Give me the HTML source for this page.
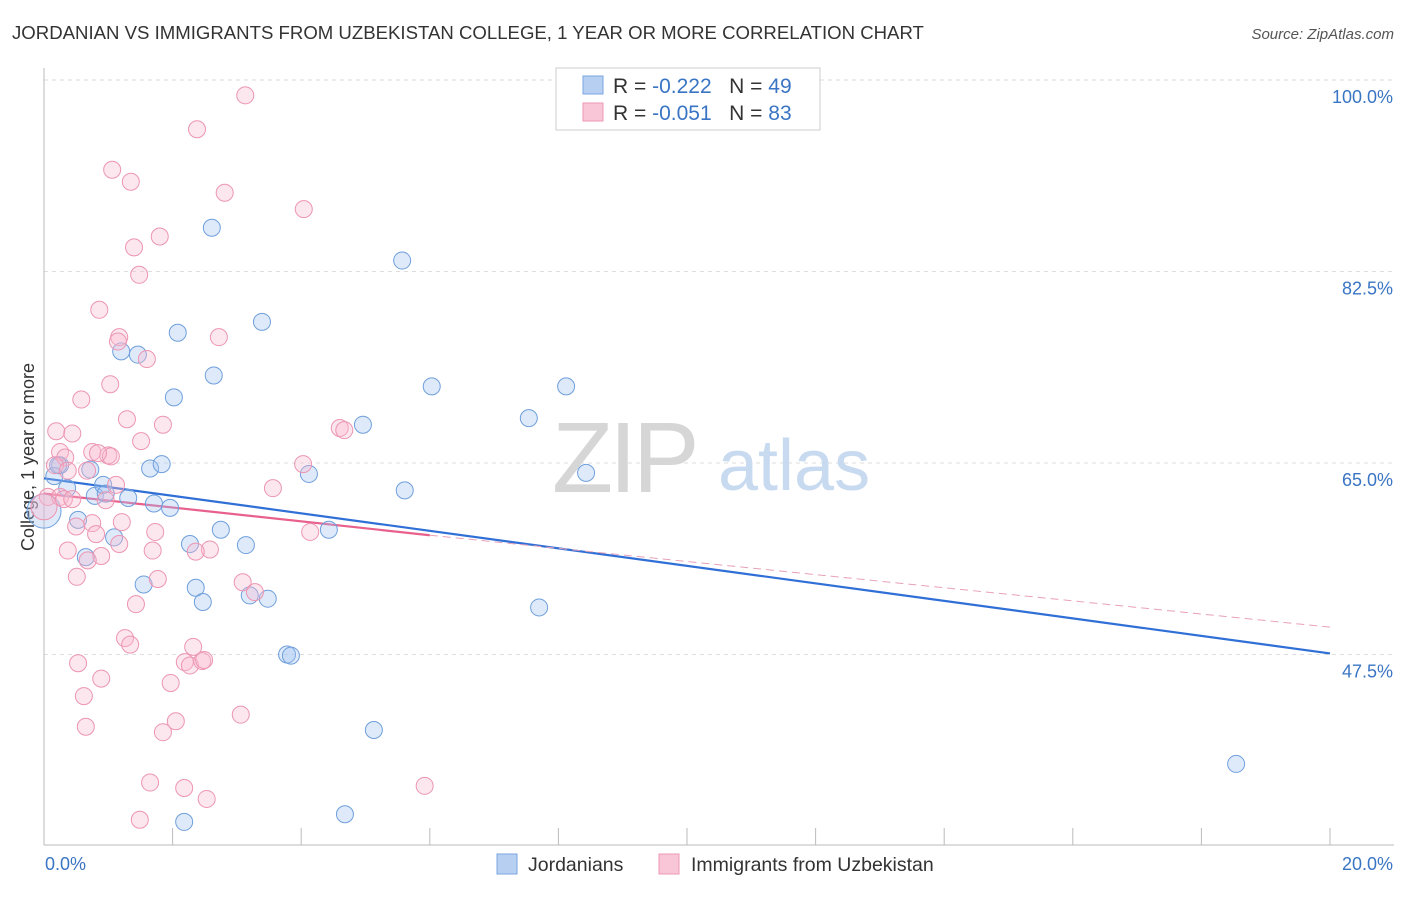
<!DOCTYPE html>
<html><head><meta charset="utf-8"><style>
body{margin:0;background:#fff;font-family:"Liberation Sans",sans-serif;}
svg text{font-family:"Liberation Sans",sans-serif;}
</style></head><body>
<svg id="chart" width="1406" height="892" viewBox="0 0 1406 892" xmlns="http://www.w3.org/2000/svg">
<text x="12" y="39" font-size="18.6" fill="#333">JORDANIAN VS IMMIGRANTS FROM UZBEKISTAN COLLEGE, 1 YEAR OR MORE CORRELATION CHART</text>
<text x="1394" y="39" font-size="15" fill="#555" text-anchor="end" font-style="italic">Source: ZipAtlas.com</text>
<g id="grid"></g>
<g>
<text x="552" y="492" font-size="100" fill="#d6d6d6" font-family="Liberation Serif" letter-spacing="-4">ZIP</text>
<text x="718" y="490" font-size="72" fill="#c8daf0">atlas</text>
</g>
<text transform="translate(34,457) rotate(-90)" font-size="18" fill="#333" text-anchor="middle">College, 1 year or more</text>
<g id="trends"></g>
<g id="points"></g>
<g>
<rect x="556" y="68" width="264" height="62" fill="#fff" stroke="#ccc"/>
<rect x="583" y="76" width="20" height="18" fill="#b7d0f2" stroke="#7aa6e0"/>
<rect x="583" y="103" width="20" height="18" fill="#f8c6d6" stroke="#ee98b6"/>
<text x="613" y="93" font-size="21" fill="#333">R = <tspan fill="#3a75c4">-0.222</tspan>&#160;&#160;&#160;N = <tspan fill="#3a75c4">49</tspan></text>
<text x="613" y="120" font-size="21" fill="#333">R = <tspan fill="#3a75c4">-0.051</tspan>&#160;&#160;&#160;N = <tspan fill="#3a75c4">83</tspan></text>
</g>
<g>
<rect x="497" y="854" width="20" height="20" fill="#b7d0f2" stroke="#7aa6e0"/>
<text x="528" y="871" font-size="19.5" fill="#333">Jordanians</text>
<rect x="659" y="854" width="20" height="20" fill="#f8c6d6" stroke="#ee98b6"/>
<text x="691" y="871" font-size="19.5" fill="#333">Immigrants from Uzbekistan</text>
</g>
</svg>
<script>
const yTicks=[100,82.5,65,47.5];
const yTickLabels=["100.0%","82.5%","65.0%","47.5%"];
const xEndLabels=["0.0%","20.0%"];
const blueX=[2.61,5.57,3.39,2.08,1.20,1.46,2.64,2.02,6.03,8.12,7.54,4.96,0.25,0.72,1.65,1.83,4.12,8.43,0.36,0.79,0.92,1.31,1.71,1.96,5.61,0.53,2.75,1.09,2.27,3.14,4.43,0.65,1.55,2.36,2.47,3.20,3.48,7.70,3.78,3.84,5.13,18.54,4.68,2.18,0.16,0.0,0.22,0.96];
const blueY=[86.5,83.5,77.9,76.9,75.2,74.9,73.0,71.0,72.0,72.0,69.1,68.5,64.8,64.4,64.5,64.9,64.0,64.1,62.7,62.0,63.0,61.8,61.3,60.9,62.5,59.8,58.9,58.2,57.6,57.5,58.9,56.4,53.9,53.6,52.3,52.9,52.6,51.8,47.5,47.4,40.6,37.5,32.9,32.2,63.8,60.6,64.8,62.2];
const pinkX=[3.13,2.38,1.06,1.35,2.81,4.04,1.80,1.40,1.48,0.86,1.17,1.15,1.60,2.72,1.03,0.58,1.29,1.85,0.19,0.44,1.51,4.60,4.67,0.25,0.33,0.75,1.00,1.04,0.84,4.03,0.17,0.37,0.67,1.12,3.56,0.06,0.25,0.31,0.44,0.96,1.21,0.75,0.50,1.73,4.14,0.81,1.17,0.37,1.69,2.58,2.36,0.89,0.68,0.51,1.77,3.09,3.28,1.43,1.26,1.34,2.32,0.53,2.19,2.27,2.46,2.49,0.89,1.97,0.62,2.05,3.06,0.65,1.85,1.65,2.18,2.53,5.92,1.49,0.0];
const pinkY=[98.6,95.5,91.8,90.7,89.7,88.2,85.7,84.7,82.2,79.0,76.5,76.1,74.5,76.5,72.2,70.8,69.0,68.5,67.9,67.7,67.0,68.2,68.0,66.0,65.5,66.0,65.7,65.6,65.9,64.9,64.8,64.3,64.3,63.0,62.7,61.9,61.9,61.7,61.7,61.6,59.6,59.5,59.2,58.7,58.7,58.5,57.6,57.0,57.0,57.1,56.9,56.5,56.1,54.6,54.4,54.1,53.2,52.1,49.0,48.4,48.2,46.7,46.8,46.5,46.9,47.0,45.3,44.9,43.7,41.4,42.0,40.9,40.4,35.8,35.3,34.3,35.5,32.4,61.0];
const blueTrend=[[0,63.6],[20,47.6]];
const pinkSolid=[[0,62.2],[6.0,58.4]];
const pinkDash=[[6.0,58.4],[20,50.0]];
const X0=44,X1=1330,YTOP=80,PXPER=191.5/17.5;
const xs=v=>X0+v/20*(X1-X0);
const ys=v=>YTOP+(100-v)*PXPER;
const NS="http://www.w3.org/2000/svg";
function mk(tag,attrs,parent){const e=document.createElementNS(NS,tag);for(const k in attrs)e.setAttribute(k,attrs[k]);parent.appendChild(e);return e;}
const grid=document.getElementById('grid');
yTicks.forEach((t,i)=>{
  const l=mk('line',{x1:44,x2:1394,y1:ys(t),y2:ys(t),stroke:'#ddd','stroke-dasharray':'4,4'},grid);
  
  
  const tx=mk('text',{x:1393,y:ys(t)+23,'font-size':18,fill:'#3a75c4','text-anchor':'end'},grid);
  tx.textContent=yTickLabels[i];
  
  
});
const ax=mk('line',{x1:44,x2:44,y1:68,y2:845,stroke:'#bbb'},grid);


const bx=mk('line',{x1:44,x2:1394,y1:845,y2:845,stroke:'#bbb'},grid);


for(let i=0;i<=10;i++){
  const t=mk('line',{x1:xs(i*2),x2:xs(i*2),y1:828,y2:845,stroke:'#bbb'},grid);
  
  
}
[[0,'start',45],[20,'end',1393]].forEach((a,i)=>{
  const tx=mk('text',{x:a[2],y:870,'font-size':18,fill:'#3a75c4','text-anchor':a[1]},grid);
  tx.textContent=xEndLabels[i];
  
  
});
const pts=document.getElementById('points');
blueX.forEach((v,i)=>{
  const c=mk('circle',{cx:xs(v),cy:ys(blueY[i]),r:(i==45?17:8.5),fill:'rgba(160,195,240,0.35)',stroke:'#6f9fdc','stroke-width':1},pts);
  
  
});
pinkX.forEach((v,i)=>{
  const c=mk('circle',{cx:xs(v),cy:ys(pinkY[i]),r:(i==pinkX.length-1?13:8.5),fill:'rgba(248,185,205,0.35)',stroke:'#ec95b3','stroke-width':1},pts);
  
  
});
const tr=document.getElementById('trends');
const bl=mk('line',{x1:xs(blueTrend[0][0]),y1:ys(blueTrend[0][1]),x2:xs(blueTrend[1][0]),y2:ys(blueTrend[1][1]),stroke:'#2f6fd6','stroke-width':2.2},tr);


const ps=mk('line',{x1:xs(pinkSolid[0][0]),y1:ys(pinkSolid[0][1]),x2:xs(pinkSolid[1][0]),y2:ys(pinkSolid[1][1]),stroke:'#e8608c','stroke-width':2.2},tr);


const pd=mk('line',{x1:xs(pinkDash[0][0]),y1:ys(pinkDash[0][1]),x2:xs(pinkDash[1][0]),y2:ys(pinkDash[1][1]),stroke:'#e8a0b8','stroke-width':1,'stroke-dasharray':'8,5'},tr);


</script>
</body></html>
